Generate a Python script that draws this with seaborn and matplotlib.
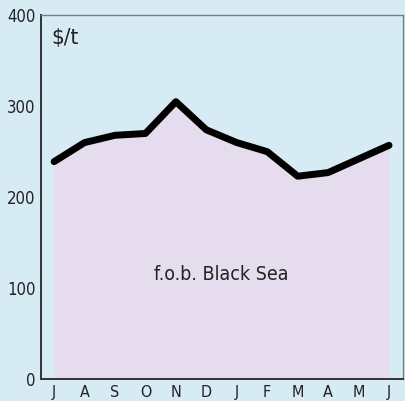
import numpy as np
import pandas as pd
import matplotlib
matplotlib.use('Agg')
import matplotlib.pyplot as plt
import seaborn as sns

# 월별 가격 ($/t), f.o.b. Black Sea
months = ['J', 'A', 'S', 'O', 'N', 'D', 'J', 'F', 'M', 'A', 'M', 'J']
price = [239, 260, 268, 270, 305, 274, 260, 250, 223, 227, 242, 257]
yticks = [0, 100, 200, 300, 400]

bg = '#d7ebf5'
fill = '#e5ddee'

sns.set_style('white')
plt.rcParams['font.family'] = ['DejaVu Sans']
plt.rcParams['font.stretch'] = 'condensed'

df = pd.DataFrame({'pos': np.arange(len(months)), 'price': price})

fig = plt.figure(figsize=(4.05, 4.01), dpi=100)
fig.patch.set_facecolor(bg)
ax = fig.add_axes([0.1012, 0.0549, 0.894, 0.907])
ax.set_facecolor(bg)

ax.fill_between(df['pos'], 0, df['price'], color=fill, linewidth=0, zorder=1)
sns.lineplot(data=df, x='pos', y='price', color='black', linewidth=5.0,
             solid_capstyle='round', ax=ax, zorder=3)

ax.set_xlim(-0.43, 11.46)
ax.set_ylim(0, 400)
ax.set_xlabel('')
ax.set_ylabel('')

# x축: 라벨은 월 위치, 눈금은 월 사이
ax.set_xticks(df['pos'])
ax.set_xticklabels(months, fontsize=11.5, color='#222222')
ax.set_xticks(np.arange(len(months) - 1) + 0.5, minor=True)
ax.tick_params(axis='x', which='major', length=0, pad=4)
ax.tick_params(axis='x', which='minor', length=8, width=1.2, direction='in', color='#222222')

ax.set_yticks(yticks)
ax.set_yticklabels([str(v) for v in yticks], fontsize=12, color='#222222')
ax.tick_params(axis='y', length=8, width=1.2, direction='in', color='#a0a8b0', pad=4)

for s in ['left', 'bottom']:
    ax.spines[s].set_color('#333333')
    ax.spines[s].set_linewidth(1.4)
for s in ['top', 'right']:
    ax.spines[s].set_color('#6f7f8c')
    ax.spines[s].set_linewidth(1.0)

ax.text(0.028, 0.965, '$/t', transform=ax.transAxes, fontsize=16, va='top', ha='left', color='#222222')
ax.text(5.5, 115, 'f.o.b. Black Sea', fontsize=14, ha='center', va='center', color='#222222')

fig.savefig('out.png', dpi=100, facecolor=bg)
